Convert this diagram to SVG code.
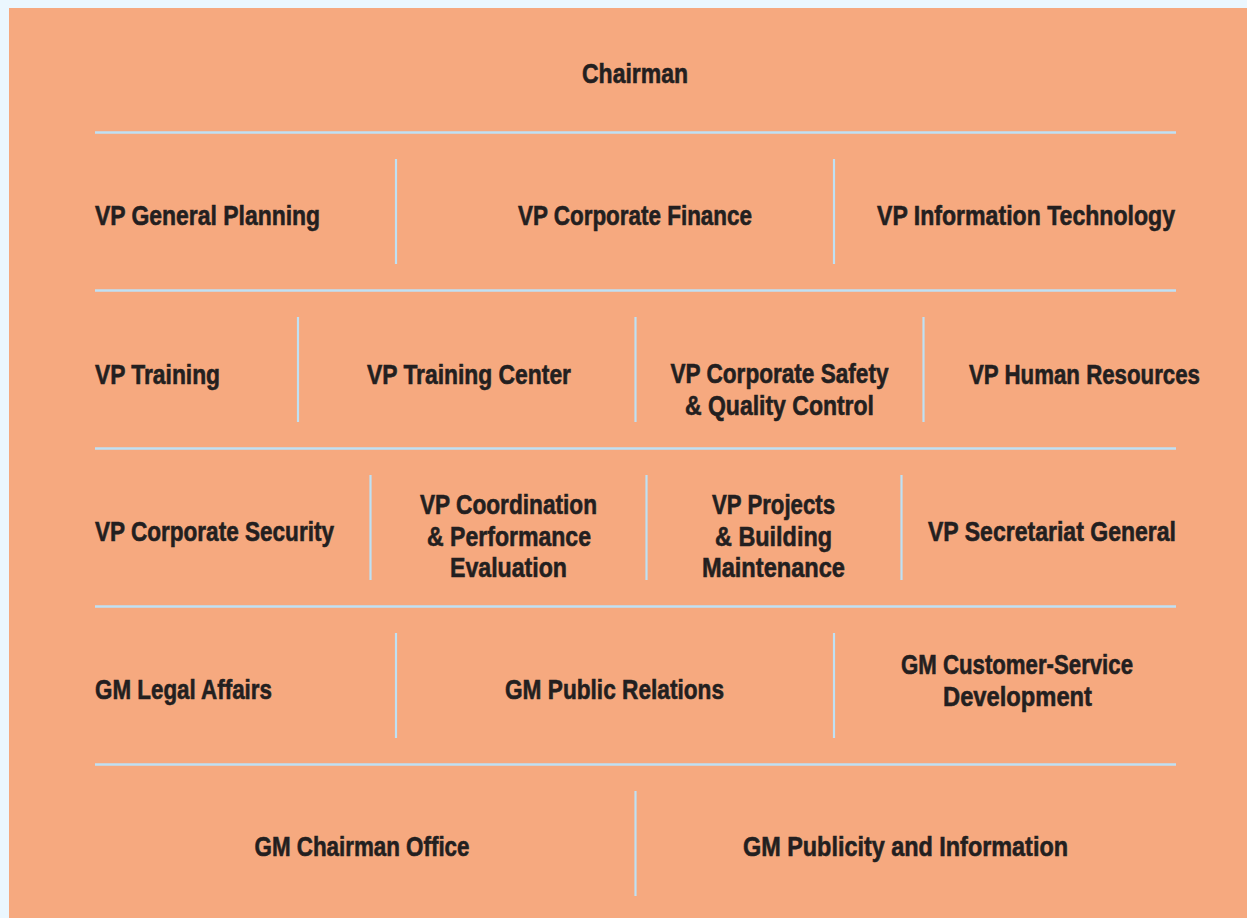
<svg xmlns="http://www.w3.org/2000/svg" width="1247" height="918" viewBox="0 0 1247 918">
  <style>
    .panel { fill: #F6A97F; }
    .rule { stroke: #BFE1F4; stroke-width: 2.5; fill: none; }
    .sep { stroke: #BFE1F4; stroke-width: 2.2; fill: none; }
    text { font-family: "Liberation Sans Narrow", "Liberation Sans", Arial, sans-serif; font-weight: bold; font-size: 28px; fill: #231F20; stroke: #231F20; stroke-width: 0.6; }
    .c { text-anchor: middle; }
  </style>
  <rect x="0" y="0" width="1247" height="918" fill="#EBF7FE"/>
  <rect class="panel" x="9" y="8" width="1238" height="910"/>

  <!-- row dividers and column separators -->
  <g id="connectors">
    <line class="rule" x1="95" y1="132.5" x2="1176" y2="132.5"/>
    <line class="rule" x1="95" y1="290.5" x2="1176" y2="290.5"/>
    <line class="rule" x1="95" y1="448.5" x2="1176" y2="448.5"/>
    <line class="rule" x1="95" y1="606.5" x2="1176" y2="606.5"/>
    <line class="rule" x1="95" y1="764.5" x2="1176" y2="764.5"/>

    <line class="sep" x1="396" y1="159" x2="396" y2="264"/>
    <line class="sep" x1="834" y1="159" x2="834" y2="264"/>

    <line class="sep" x1="298" y1="317" x2="298" y2="422"/>
    <line class="sep" x1="635.5" y1="317" x2="635.5" y2="422"/>
    <line class="sep" x1="923.5" y1="317" x2="923.5" y2="422"/>

    <line class="sep" x1="370.5" y1="475" x2="370.5" y2="580"/>
    <line class="sep" x1="646.5" y1="475" x2="646.5" y2="580"/>
    <line class="sep" x1="901.5" y1="475" x2="901.5" y2="580"/>

    <line class="sep" x1="396" y1="633" x2="396" y2="738"/>
    <line class="sep" x1="834" y1="633" x2="834" y2="738"/>

    <line class="sep" x1="635.5" y1="791" x2="635.5" y2="896"/>
  </g>

  <g id="chairman"><text class="c" x="635" y="83" textLength="106" lengthAdjust="spacingAndGlyphs">Chairman</text></g>

  <g id="vp-general-planning"><text x="95" y="225" textLength="225" lengthAdjust="spacingAndGlyphs">VP General Planning</text></g>
  <g id="vp-corporate-finance"><text class="c" x="635" y="225" textLength="234" lengthAdjust="spacingAndGlyphs">VP Corporate Finance</text></g>
  <g id="vp-information-technology"><text class="c" x="1026" y="225" textLength="298" lengthAdjust="spacingAndGlyphs">VP Information Technology</text></g>

  <g id="vp-training"><text x="95" y="384" textLength="125" lengthAdjust="spacingAndGlyphs">VP Training</text></g>
  <g id="vp-training-center"><text class="c" x="469" y="384" textLength="204" lengthAdjust="spacingAndGlyphs">VP Training Center</text></g>
  <g id="vp-safety-quality">
    <text class="c" x="779.5" y="383" textLength="218" lengthAdjust="spacingAndGlyphs">VP Corporate Safety</text>
    <text class="c" x="779.5" y="415" textLength="189" lengthAdjust="spacingAndGlyphs">&amp; Quality Control</text>
  </g>
  <g id="vp-human-resources"><text class="c" x="1084.5" y="384" textLength="231" lengthAdjust="spacingAndGlyphs">VP Human Resources</text></g>

  <g id="vp-corporate-security"><text x="95" y="541" textLength="239" lengthAdjust="spacingAndGlyphs">VP Corporate Security</text></g>
  <g id="vp-coordination">
    <text class="c" x="508.5" y="514" textLength="177" lengthAdjust="spacingAndGlyphs">VP Coordination</text>
    <text class="c" x="509" y="546" textLength="164" lengthAdjust="spacingAndGlyphs">&amp; Performance</text>
    <text class="c" x="508.5" y="577" textLength="117" lengthAdjust="spacingAndGlyphs">Evaluation</text>
  </g>
  <g id="vp-projects">
    <text class="c" x="773.5" y="514" textLength="123" lengthAdjust="spacingAndGlyphs">VP Projects</text>
    <text class="c" x="773.5" y="546" textLength="117" lengthAdjust="spacingAndGlyphs">&amp; Building</text>
    <text class="c" x="773.5" y="577" textLength="143" lengthAdjust="spacingAndGlyphs">Maintenance</text>
  </g>
  <g id="vp-secretariat-general"><text class="c" x="1052" y="541" textLength="248" lengthAdjust="spacingAndGlyphs">VP Secretariat General</text></g>

  <g id="gm-legal-affairs"><text x="95" y="699" textLength="177" lengthAdjust="spacingAndGlyphs">GM Legal Affairs</text></g>
  <g id="gm-public-relations"><text class="c" x="614.5" y="699" textLength="219" lengthAdjust="spacingAndGlyphs">GM Public Relations</text></g>
  <g id="gm-customer-service">
    <text class="c" x="1017" y="674" textLength="232" lengthAdjust="spacingAndGlyphs">GM Customer-Service</text>
    <text class="c" x="1017.5" y="706" textLength="149" lengthAdjust="spacingAndGlyphs">Development</text>
  </g>

  <g id="gm-chairman-office"><text class="c" x="362" y="856" textLength="215" lengthAdjust="spacingAndGlyphs">GM Chairman Office</text></g>
  <g id="gm-publicity-information"><text class="c" x="905.5" y="856" textLength="325" lengthAdjust="spacingAndGlyphs">GM Publicity and Information</text></g>
</svg>
